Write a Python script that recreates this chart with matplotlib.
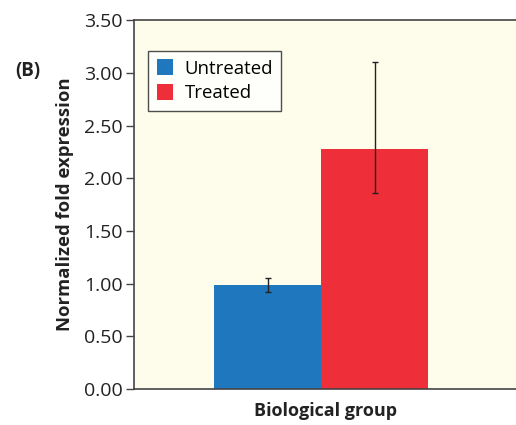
import matplotlib
matplotlib.use("Agg")
import matplotlib.pyplot as plt
from matplotlib.patches import Patch

groups = ["Untreated", "Treated"]
values = [0.99, 2.28]
err_lower = [0.065, 0.42]
err_upper = [0.06, 0.82]
colors = ["#1F78BE", "#EE2E38"]
yticks = [0.0, 0.5, 1.0, 1.5, 2.0, 2.5, 3.0, 3.5]

plt.rcParams['font.family'] = ['Open Sans', 'DejaVu Sans']

fig = plt.figure(figsize=(5.16, 4.25), dpi=100)
ax = fig.add_axes([0.2597, 0.0847, 0.7403, 0.868])
ax.set_facecolor("#FEFCEA")

xpos = [0.350, 0.630]
width = 0.280
ax.bar(xpos, values, width=width, color=colors, zorder=2)
ax.errorbar(xpos, values, yerr=[err_lower, err_upper], fmt='none',
            ecolor='#222222', elinewidth=1.0, capsize=2.5, capthick=1.0, zorder=3)

ax.set_xlim(0, 1)
ax.set_ylim(0, 3.5)
ax.set_yticks(yticks)
ax.set_yticklabels([f"{t:.2f}" for t in yticks], fontsize=14, color="#222222")
ax.set_xticks([])
ax.tick_params(axis='y', length=6, width=1, color="#444444", pad=2)

for s in ['left', 'bottom', 'top']:
    ax.spines[s].set_color("#444444")
    ax.spines[s].set_linewidth(1.2)
ax.spines['right'].set_visible(False)

ax.set_ylabel("Normalized fold expression", fontsize=13.3, fontweight='bold',
              color="#222222", labelpad=7)
ax.set_xlabel("Biological group", fontsize=13, fontweight='bold',
              color="#222222", labelpad=9)

handles = [Patch(facecolor=c, edgecolor='none', label=g) for g, c in zip(groups, colors)]
leg = ax.legend(handles=handles, loc='upper left', bbox_to_anchor=(0.037, 0.916),
                borderaxespad=0,
                fontsize=13.4, frameon=True, fancybox=False, edgecolor="#222222",
                handlelength=0.9, handleheight=0.9, handletextpad=0.6,
                borderpad=0.45, labelspacing=0.35)
leg.get_frame().set_linewidth(1.0)
leg.get_frame().set_facecolor("white")

fig.text(0.029, 0.822, "(B)", fontsize=13.5, fontweight='bold', color="#222222")

fig.savefig("out.png", dpi=100)
